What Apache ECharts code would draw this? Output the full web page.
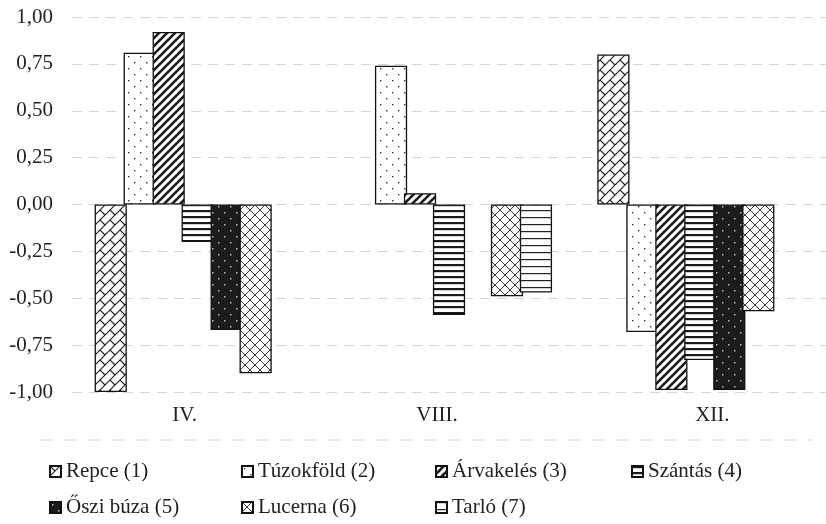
<!DOCTYPE html>
<html>
<head>
<meta charset="utf-8">
<script src="https://cdn.jsdelivr.net/npm/echarts@6/dist/echarts.min.js"></script>
<style>
  html, body { margin: 0; padding: 0; background: #fff; }
  #chart { width: 826px; height: 524px; }
</style>
</head>
<body>
<div id="chart"></div>
<script>
// Months sampled and correlation values per habitat type
const categories = ['IV.', 'VIII.', 'XII.'];
const seriesNames = ['Repce (1)', 'Túzokföld (2)', 'Árvakelés (3)', 'Szántás (4)', 'Őszi búza (5)', 'Lucerna (6)', 'Tarló (7)'];
const repce     = [-1.00, null, 0.80];
const tuzokfold = [0.81, 0.74, -0.68];
const arvakeles = [0.92, 0.06, -0.99];
const szantas   = [-0.20, -0.59, -0.83];
const osziBuza  = [-0.67, null, -0.99];
const lucerna   = [-0.90, -0.49, -0.57];
const tarlo     = [null, -0.47, null];
const seriesValues = [repce, tuzokfold, arvakeles, szantas, osziBuza, lucerna, tarlo];

// Value axis range
const yMin = -1.0;
const yMax = 1.0;
const yStep = 0.25;

const FONT = '"Liberation Serif", "DejaVu Serif", serif';
const FS = 21;

// ---- hatch fills, built on small canvases ----
function tile(w, h, bg, draw) {
  const c = document.createElement('canvas');
  c.width = w; c.height = h;
  const g = c.getContext('2d');
  g.fillStyle = bg;
  g.fillRect(0, 0, w, h);
  draw(g, w, h);
  return { image: c, repeat: 'repeat' };
}
function seg(g, x1, y1, x2, y2) {
  g.beginPath(); g.moveTo(x1, y1); g.lineTo(x2, y2); g.stroke();
}
function slashes(g, s) {
  for (let k = -1; k <= 2; k++) seg(g, -2, k * s + 2, k * s + 2, -2);
}
function backslashes(g, s) {
  for (let k = -1; k <= 2; k++) seg(g, -2, k * s - 2 - s + s, s + 2, k * s + s + 2 - s + s - s);
}

const fills = [
  // diagonal brick
  tile(10, 10, '#fff', (g) => {
    g.strokeStyle = '#1a1a1a'; g.lineWidth = 1.1;
    slashes(g, 10);
    seg(g, 0, 0, 5, 5);
  }),
  // sparse dots
  tile(12, 12, '#fff', (g) => {
    g.fillStyle = '#333';
    g.fillRect(2, 2, 1.4, 1.4);
    g.fillRect(8, 8, 1.4, 1.4);
  }),
  // wide upward diagonal
  tile(8, 8, '#fff', (g) => {
    g.strokeStyle = '#1a1a1a'; g.lineWidth = 2.6;
    slashes(g, 8);
  }),
  // wide horizontal
  tile(6, 6, '#fff', (g) => {
    g.fillStyle = '#1a1a1a';
    g.fillRect(0, 0, 6, 2.2);
  }),
  // dark with light dots
  tile(12, 12, '#1c1c1c', (g) => {
    g.fillStyle = '#bdbdbd';
    g.fillRect(2, 2, 1.5, 1.5);
    g.fillRect(8, 8, 1.5, 1.5);
  }),
  // diagonal crosshatch
  tile(10, 10, '#fff', (g) => {
    g.strokeStyle = '#222'; g.lineWidth = 0.9;
    slashes(g, 10);
    for (let k = -1; k <= 1; k++) seg(g, -2, k * 10 - 2, 12, k * 10 + 12);
  }),
  // narrow horizontal
  tile(7, 7, '#fff', (g) => {
    g.fillStyle = '#222';
    g.fillRect(0, 0, 7, 1.2);
  })
];

// label nudges for the month captions
const labelPad = { a: [0, 26, 0, 0], b: [0, 24, 0, 0], c: [0, 0, 0, 24] };
const labelKey = { 'IV.': 'a', 'VIII.': 'b', 'XII.': 'c' };

const series = seriesNames.map((name, i) => ({
  name: name,
  type: 'bar',
  data: seriesValues[i],
  barGap: '-10%',
  barCategoryGap: '18%',
  itemStyle: { color: fills[i], borderColor: '#111', borderWidth: 1.3 },
  emphasis: { disabled: true }
}));

// legend grid: four columns, two rows
const legendCols = [44, 236, 430, 626];
const legendRows = [456, 492];
const legends = seriesNames.map((name, i) => ({
  left: legendCols[i % 4],
  top: legendRows[Math.floor(i / 4)],
  icon: 'rect',
  itemWidth: 11,
  itemHeight: 11,
  selectedMode: false,
  data: [name],
  textStyle: { fontFamily: FONT, fontSize: FS, color: '#222' }
}));

const richLabel = (pad) => ({ fontFamily: FONT, fontSize: FS, color: '#222', padding: pad });

const chart = echarts.init(document.getElementById('chart'), null, { renderer: 'canvas' });
chart.setOption({
  animation: false,
  backgroundColor: '#fff',
  grid: { left: 72, top: 17, width: 754, height: 375, containLabel: false },
  xAxis: {
    type: 'category',
    data: categories,
    axisLine: { show: false },
    axisTick: { show: false },
    axisLabel: {
      margin: 13,
      fontFamily: FONT, fontSize: FS, color: '#222',
      formatter: (v) => '{' + labelKey[v] + '|' + v + '}',
      rich: { a: richLabel(labelPad.a), b: richLabel(labelPad.b), c: richLabel(labelPad.c) }
    }
  },
  yAxis: {
    type: 'value',
    min: yMin, max: yMax, interval: yStep,
    axisLine: { show: false },
    axisTick: { show: false },
    axisLabel: {
      margin: 19,
      fontFamily: FONT, fontSize: FS, color: '#222',
      formatter: (v) => v.toFixed(2).replace('.', ',')
    },
    splitLine: { lineStyle: { color: '#d6d6d6', width: 1, type: [10, 7] } }
  },
  legend: legends,
  graphic: [{
    type: 'line',
    shape: { x1: 40, y1: 440, x2: 812, y2: 440 },
    style: { stroke: '#d6d6d6', lineWidth: 1, lineDash: [14, 10] },
    silent: true
  }],
  series: series
});
</script>
</body>
</html>
